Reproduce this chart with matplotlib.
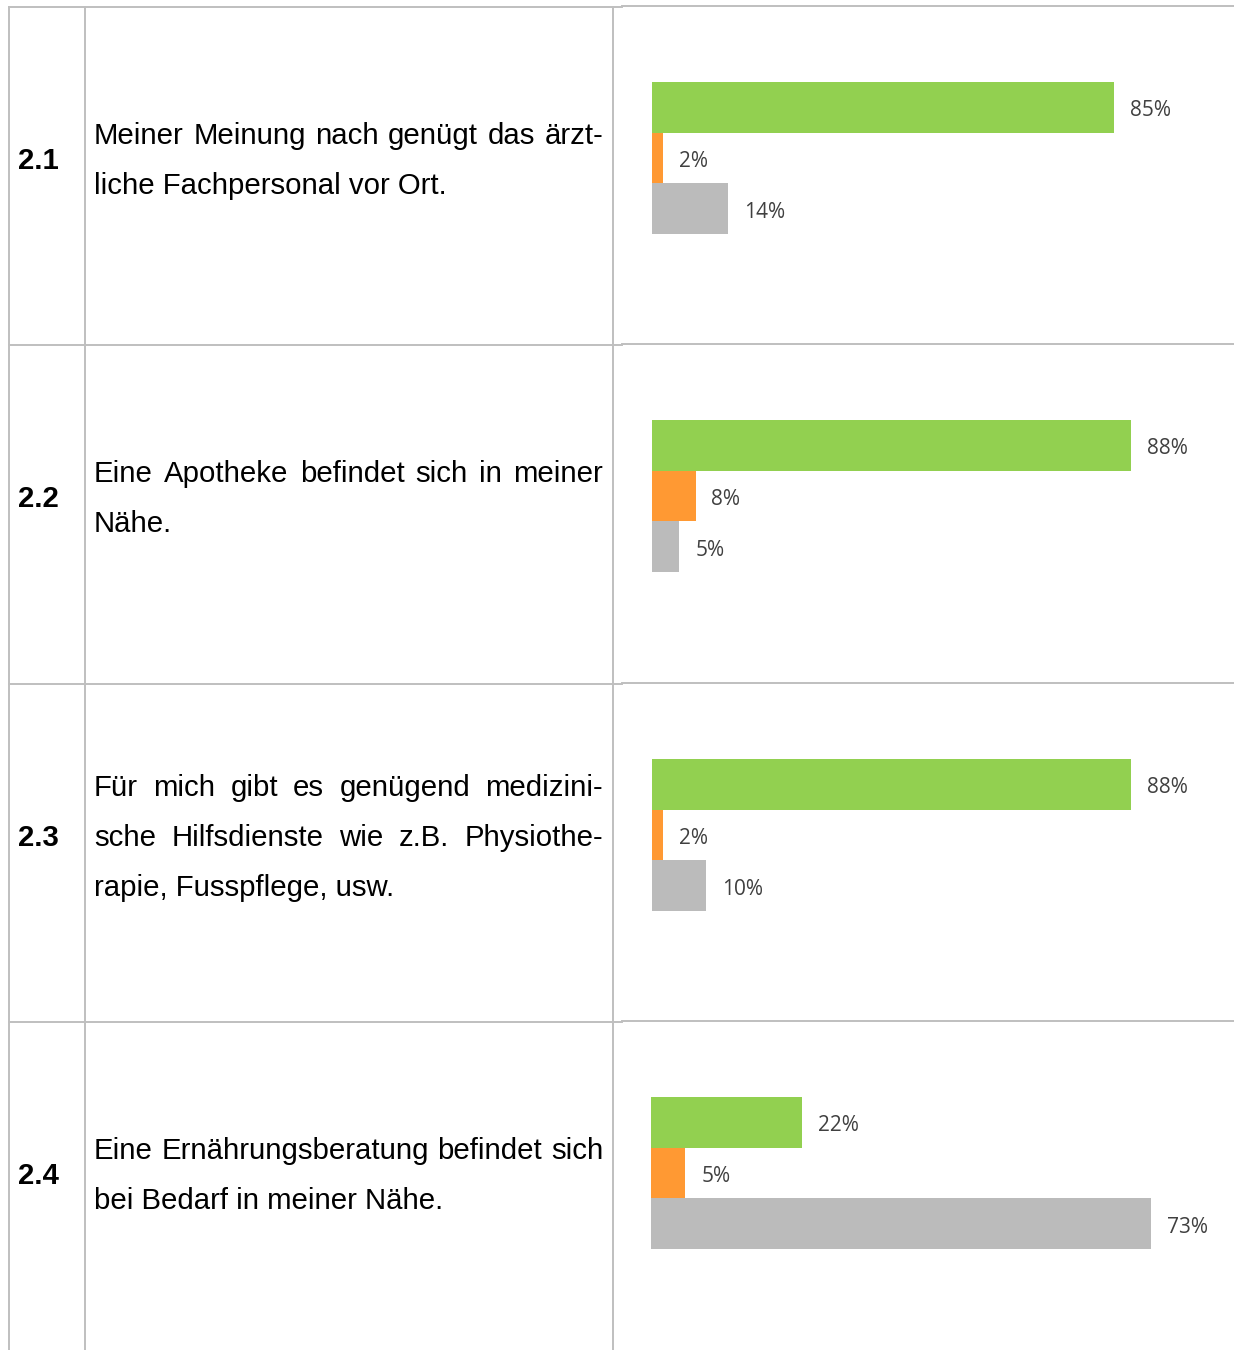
import matplotlib
matplotlib.use("Agg")
import matplotlib.pyplot as plt

# data
items = ["2.1", "2.2", "2.3", "2.4"]
texts = [
    ["Meiner Meinung nach genügt das ärzt-", "liche Fachpersonal vor Ort."],
    ["Eine Apotheke befindet sich in meiner", "Nähe."],
    ["Für mich gibt es genügend medizini-", "sche Hilfsdienste wie z.B. Physiothe-", "rapie, Fusspflege, usw."],
    ["Eine Ernährungsberatung befindet sich", "bei Bedarf in meiner Nähe."],
]
werte = [
    [85, 2, 14],
    [88, 8, 5],
    [88, 2, 10],
    [22, 5, 73],
]
x_max = [100, 100, 100, 80]
farben = ["#92D050", "#FF9933", "#BBBBBB"]

W, H = 1234, 1350
fig = plt.figure(figsize=(W / 100, H / 100), dpi=100)
bg = fig.add_axes([0, 0, 1, 1])
bg.set_xlim(0, W)
bg.set_ylim(H, 0)
bg.axis("off")

grau = "#BFBFBF"
lw = 1.4
# table lines
for x in [9, 85, 613]:
    bg.plot([x, x], [7, H], color=grau, lw=lw)
for y in [7, 345, 684, 1022]:
    bg.plot([9, 622], [y, y], color=grau, lw=lw)
    bg.plot([622, W], [y - 1, y - 1], color=grau, lw=lw)

renderer = fig.canvas.get_renderer()
fs = 21.2
x_left, x_right = 94, 603


def justified(line, y):
    words = line.split(" ")
    objs = [bg.text(0, y, w, fontsize=fs, family="Liberation Sans", va="baseline") for w in words]
    widths = []
    for t in objs:
        bb = t.get_window_extent(renderer)
        widths.append(bb.width)
    gap = (x_right - x_left - sum(widths)) / (len(words) - 1)
    x = x_left
    for t, wd in zip(objs, widths):
        t.set_x(x)
        x += wd + gap


row_top = [7, 345, 684, 1022]
pitch = 50.5
for i in range(4):
    mid = row_top[i] + 162  # baseline of the middle of the text block
    n = len(texts[i])
    y0 = mid - (n - 1) * pitch / 2
    for k, line in enumerate(texts[i]):
        y = y0 + k * pitch
        if k < n - 1:
            justified(line, y)
        else:
            bg.text(x_left, y, line, fontsize=fs, family="Liberation Sans", va="baseline")
    bg.text(18, mid, items[i], fontsize=fs, family="Liberation Sans", weight="bold", va="baseline")

    # bar chart per row
    top = row_top[i] + 75
    x0 = 652 if i < 3 else 651
    breite = 544 if x_max[i] == 100 else 548
    ax = fig.add_axes([x0 / W, 1 - (top + 152) / H, breite / W, 152 / H])
    ax.barh([0, 1, 2], werte[i], height=1.0, color=farben)
    ax.set_xlim(0, x_max[i])
    ax.set_ylim(2.5, -0.5)
    ax.axis("off")
    for j, v in enumerate(werte[i]):
        ax.annotate(f"{v}%", (v, j), xytext=(11.5, -2.5), textcoords="offset points",
                    va="center", ha="left", fontsize=15, family="Open Sans", color="#404040")

fig.savefig("out.png", dpi=100)
